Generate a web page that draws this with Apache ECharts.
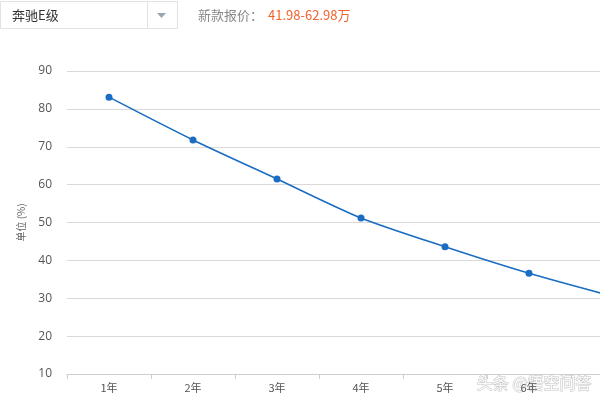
<!DOCTYPE html>
<html><head><meta charset="utf-8">
<script src="https://cdn.jsdelivr.net/npm/echarts@6/dist/echarts.min.js"></script>
<style>html,body{margin:0;padding:0;background:#fff}#c{width:600px;height:400px}</style>
</head><body><div id="c"></div>
<script>
var categories = ['1年','2年','3年','4年','5年','6年','7年'];
var values = [83.1, 71.8, 61.5, 51.2, 43.6, 36.6, 30.5];
var yTicks = [10, 90, 10]; // min, max, interval
var modelName = '奔驰E级';
var priceLabel = '新款报价：';
var priceRange = '41.98-62.98万';

var chart = echarts.init(document.getElementById('c'));
chart.setOption({
  animation: false,
  grid: {left: 67, width: 588, top: 71, bottom: 26, outerBoundsMode: 'none', containLabel: false},
  xAxis: {
    type: 'category', data: categories, boundaryGap: true,
    axisLine: {lineStyle: {color: '#cfcfcf'}},
    axisTick: {show: true, length: 5, lineStyle: {color: '#cfcfcf'}},
    axisLabel: {color: '#555', fontSize: 11, margin: 8, fontFamily: 'Noto Sans CJK SC'}
  },
  yAxis: {
    type: 'value', min: yTicks[0], max: yTicks[1], interval: yTicks[2],
    name: '单位 (%)', nameLocation: 'middle', nameGap: 41, nameRotate: 90,
    nameTextStyle: {color: '#666', fontSize: 10, fontFamily: 'Noto Sans CJK SC'},
    axisLine: {show: false}, axisTick: {show: false},
    axisLabel: {color: '#555', fontSize: 12, margin: 15, fontFamily: 'Open Sans'},
    splitLine: {lineStyle: {color: '#d9d9d9'}}
  },
  series: [{
    type: 'line', data: values, smooth: 0.25,
    symbol: 'circle', symbolSize: 7,
    lineStyle: {color: '#1a6dc2', width: 1.6},
    itemStyle: {color: '#1a6dc2'}
  }],
  graphic: [
    {type: 'rect', shape: {x: 0.5, y: 1.5, width: 177, height: 27}, style: {fill: '#fff', stroke: '#e2e2e2', lineWidth: 1}},
    {type: 'line', shape: {x1: 147.5, y1: 2, x2: 147.5, y2: 28}, style: {stroke: '#e2e2e2', lineWidth: 1}},
    {type: 'polygon', shape: {points: [[157, 13], [166, 13], [161.5, 18]]}, style: {fill: '#9aa4b0'}},
    {type: 'text', x: 12, y: 15, style: {text: modelName, fill: '#333', fontSize: 13, fontFamily: 'Noto Sans CJK SC', verticalAlign: 'middle'}},
    {type: 'text', x: 198, y: 15, style: {text: priceLabel, fill: '#888', fontSize: 13, fontFamily: 'Noto Sans CJK SC', verticalAlign: 'middle'}},
    {type: 'text', x: 268, y: 15, style: {text: priceRange, fill: '#f2622e', fontSize: 13, fontFamily: 'Noto Sans CJK SC', verticalAlign: 'middle'}},
    {type: 'text', right: 8, top: 374, style: {text: '头条 @悟空问答', fill: 'rgba(255,255,255,0.9)', stroke: 'rgba(170,170,170,0.7)', lineWidth: 1, fontSize: 16, fontFamily: 'Noto Sans CJK SC'}}
  ]
});
</script></body></html>
